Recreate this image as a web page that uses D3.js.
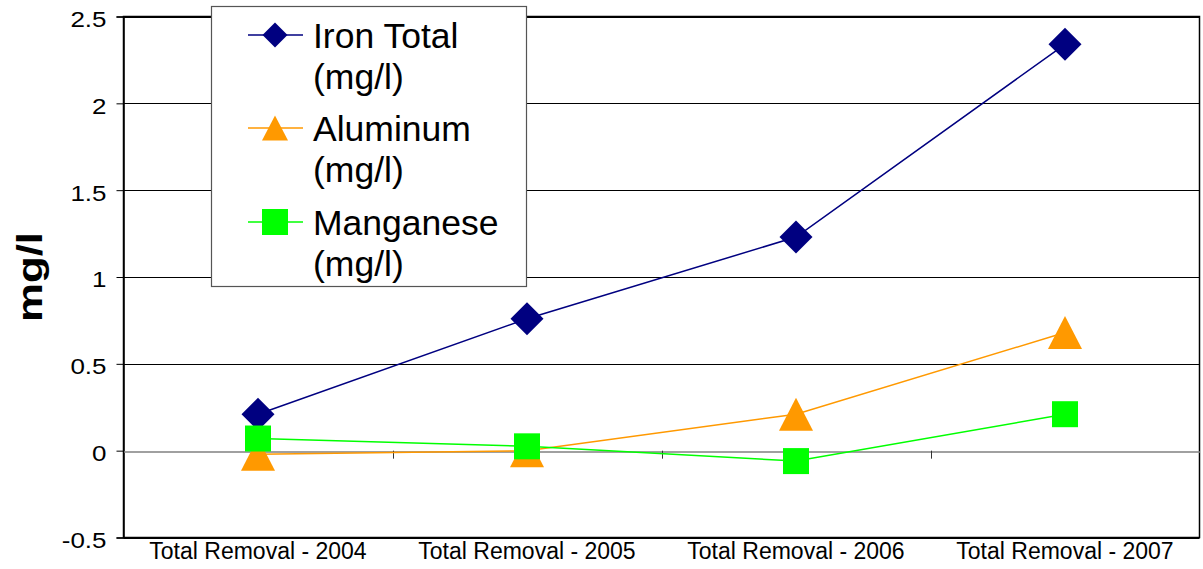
<!DOCTYPE html>
<html>
<head>
<meta charset="utf-8">
<script src="https://cdn.jsdelivr.net/npm/d3@7"></script>
<style>
  body { margin: 0; background: #fff; }
  text { font-family: "Liberation Sans", Arial, sans-serif; }
</style>
</head>
<body>
<script>
// chart values
const categories = ["Total Removal - 2004", "Total Removal - 2005", "Total Removal - 2006", "Total Removal - 2007"];
const ironTotal = [0.21, 0.76, 1.23, 2.34];
const aluminum = [-0.02, 0.0, 0.21, 0.68];
const manganese = [0.07, 0.025, -0.06, 0.21];
const yTicks = [-0.5, 0, 0.5, 1, 1.5, 2, 2.5];
const seriesNames = [["Iron Total", "(mg/l)"], ["Aluminum", "(mg/l)"], ["Manganese", "(mg/l)"]];

var width = 1203, height = 569;
// plot area edges (window.top is taken, so prefix them)
var plotLeft = 123.5, plotRight = 1199.5, plotTop = 16.5, plotBottom = 537.5;

var svg = d3.select("body").append("svg")
    .attr("width", width)
    .attr("height", height);

var x = d3.scaleBand().domain(categories).range([plotLeft, plotRight]);
var y = d3.scaleLinear().domain([-0.5, 2.5]).range([plotBottom, plotTop]);

// gridlines
svg.append("g")
  .selectAll("line")
  .data(yTicks.filter(t => t !== 0))
  .join("line")
    .attr("x1", plotLeft).attr("x2", plotRight)
    .attr("y1", d => Math.round(y(d)) + 0.5).attr("y2", d => Math.round(y(d)) + 0.5)
    .attr("stroke", "#000").attr("stroke-width", 1);

// frame
svg.append("rect")
  .attr("x", plotLeft).attr("y", plotTop)
  .attr("width", plotRight - plotLeft).attr("height", plotBottom - plotTop)
  .attr("fill", "none").attr("stroke", "#000").attr("stroke-width", 1.5);

// y axis ticks + labels
var yAxis = d3.axisLeft(y).tickValues(yTicks).tickSize(7).tickFormat(d => String(d));
var ya = svg.append("g").attr("transform", `translate(${plotLeft},0)`).call(yAxis);
ya.select(".domain").attr("stroke", "#000").attr("stroke-width", 1.5);
ya.selectAll(".tick line").attr("stroke", "#000").attr("stroke-width", 1);
// labels look a bit wide in the original, so stretch them sideways
ya.selectAll(".tick text")
  .attr("x", 0).attr("dy", "0.45em")
  .attr("transform", "translate(-17,0) scale(1.18,1)")
  .style("font-size", "22px").style("font-family", "Liberation Sans, Arial").attr("fill", "#000");

// category axis at zero
var xAxis = d3.axisBottom(x).tickSize(0).tickFormat("");
var xa = svg.append("g").attr("transform", `translate(0,${Math.round(y(0)) + 0.5})`).call(xAxis);
xa.select(".domain").attr("stroke", "#808080").attr("stroke-width", 1.5);
svg.append("g")
  .selectAll("line")
  .data(categories.slice(1))
  .join("line")
    .attr("x1", d => Math.round(x(d)) + 0.5).attr("x2", d => Math.round(x(d)) + 0.5)
    .attr("y1", y(0)).attr("y2", y(0) + 8)
    .attr("stroke", "#333").attr("stroke-width", 1);

svg.append("g")
  .selectAll("text")
  .data(categories)
  .join("text")
    .attr("x", d => x(d) + x.bandwidth() / 2)
    .attr("y", 559)
    .attr("text-anchor", "middle")
    .style("font-size", "23px")
    .text(d => d);

// y title, stretched along its length like the original
svg.append("text")
  .attr("transform", `translate(42,${(plotTop + plotBottom) / 2}) rotate(-90) scale(1.25,1)`)
  .attr("text-anchor", "middle")
  .style("font-size", "35px")
  .style("font-weight", "bold")
  .text("mg/l");

// marker shapes
function diamond(r) { return `M0,${-r}L${r},0L0,${r}L${-r},0Z`; }
function triangle(w, h) { return `M0,${-h / 2}L${w / 2},${h / 2}L${-w / 2},${h / 2}Z`; }
function square(s) { return `M${-s / 2},${-s / 2}h${s}v${s}h${-s}Z`; }

var series = [
  { values: ironTotal, color: "#000080", width: 1.5, shape: diamond(16.5), legendShape: diamond(12.5) },
  { values: aluminum, color: "#FF9900", width: 1.5, shape: triangle(34, 33), legendShape: triangle(26, 25) },
  { values: manganese, color: "#00FF00", width: 1.5, shape: square(26), legendShape: square(26) }
];

var line = d3.line()
  .x((d, i) => x(categories[i]) + x.bandwidth() / 2)
  .y(d => y(d));

series.forEach(s => {
  svg.append("path")
    .datum(s.values)
    .attr("d", line)
    .attr("fill", "none")
    .attr("stroke", s.color)
    .attr("stroke-width", s.width);
  svg.append("g")
    .selectAll("path")
    .data(s.values)
    .join("path")
      .attr("transform", (d, i) => `translate(${x(categories[i]) + x.bandwidth() / 2},${y(d)})`)
      .attr("d", s.shape)
      .attr("fill", s.color);
});

// legend
var legend = svg.append("g");
legend.append("rect")
  .attr("x", 211.5).attr("y", 6.5)
  .attr("width", 315).attr("height", 280)
  .attr("fill", "#fff").attr("stroke", "#555").attr("stroke-width", 1.2);

var legendY = [35, 128, 222];
series.forEach((s, i) => {
  var cy = legendY[i];
  legend.append("line")
    .attr("x1", 248).attr("x2", 303)
    .attr("y1", cy).attr("y2", cy)
    .attr("stroke", s.color).attr("stroke-width", s.width);
  legend.append("path")
    .attr("transform", `translate(275,${cy})`)
    .attr("d", s.legendShape)
    .attr("fill", s.color);
  var t = legend.append("text")
    .attr("x", 313).attr("y", cy + 13)
    .style("font-size", "35.5px");
  seriesNames[i].forEach((w, j) => {
    t.append("tspan").attr("x", 313).attr("dy", j === 0 ? 0 : 41).text(w);
  });
});
</script>
</body>
</html>
